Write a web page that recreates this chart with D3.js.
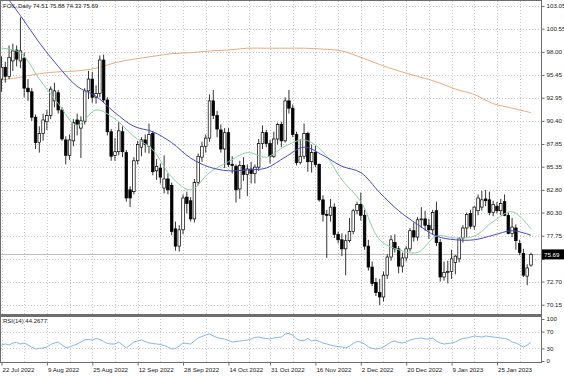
<!DOCTYPE html>
<html>
<head>
<meta charset="utf-8">
<script src="https://cdn.jsdelivr.net/npm/d3@7"></script>
<style>
  body { margin: 0; background: #fff; }
  svg { display: block; }
  text { font-family: "Liberation Sans", Arial, sans-serif; }
</style>
</head>
<body>
<svg id="chart" width="564" height="376"></svg>
<script>
//Trading days shown on the chart (weekdays, two holiday sessions missing)
var startDay = "2022-07-22", endDay = "2023-02-07";
var missingDays = ["2022-12-26", "2023-01-02"];

//Daily candles, one value per trading day
var opens = [95.0,96.3,95.3,97.0,98.2,97.0,97.3,94.0,93.6,90.8,88.0,89.0,90.3,91.0,92.6,93.5,91.6,88.3,86.6,88.2,
  90.5,89.6,90.3,93.7,95.0,93.0,93.4,97.1,92.7,89.2,86.6,87.0,89.2,86.9,82.8,82.6,86.0,87.5,88.3,87.6,
  89.0,84.9,85.2,83.0,84.0,83.3,78.5,76.6,78.4,82.0,81.6,79.6,83.6,86.4,87.6,88.5,92.6,91.0,89.4,87.3,
  89.1,85.6,85.4,82.9,85.5,84.5,85.1,84.6,85.3,87.9,89.1,87.9,86.5,88.4,90.0,88.2,92.6,91.8,88.9,85.8,
  86.5,89.0,85.9,86.9,85.6,81.7,80.1,80.0,80.9,77.9,77.3,76.3,77.2,78.2,80.5,81.2,80.0,76.6,74.3,72.6,
  71.5,71.0,73.4,75.4,77.0,76.3,74.4,75.3,76.3,78.3,77.6,79.5,79.6,78.9,78.4,80.5,77.0,73.2,73.7,73.8,
  74.8,75.2,77.5,78.6,80.2,78.8,80.5,80.9,81.8,81.7,80.3,81.0,80.5,81.5,80.0,78.0,78.6,76.9,75.8,73.3,74.51];
var highs = [97.5,96.9,98.7,98.9,98.7,101.8,97.9,95.0,94.0,91.1,89.8,91.2,91.6,94.2,94.6,93.8,91.9,88.7,88.9,90.6,
  91.2,90.9,94.0,95.9,95.8,94.3,97.6,97.7,93.0,89.5,88.5,90.3,89.8,87.2,83.2,86.4,88.2,88.6,88.9,90.1,
  89.3,86.2,85.7,86.6,84.6,83.6,79.3,78.9,82.3,82.6,82.0,84.0,86.8,88.1,88.9,93.3,93.8,91.5,90.0,89.6,
  89.6,86.5,85.6,86.0,86.4,85.6,85.9,85.6,88.4,89.9,89.4,88.3,89.2,90.2,90.3,93.0,93.8,92.2,89.2,88.4,
  90.1,89.2,87.8,87.7,85.7,82.2,80.6,81.8,81.3,78.2,78.0,77.9,79.7,80.7,81.5,82.5,80.6,77.3,74.9,73.1,
  73.0,73.8,75.7,77.8,77.9,76.6,75.9,76.6,78.6,79.2,79.8,80.9,80.5,79.6,80.6,81.5,77.4,74.9,75.0,76.2,
  75.6,77.6,78.9,80.3,80.6,81.0,82.3,82.7,82.8,82.6,81.6,81.5,81.8,82.3,80.3,79.7,79.0,77.3,76.3,74.6,75.88];
var lows = [93.6,94.6,95.0,95.9,96.4,96.2,93.0,92.6,90.4,87.3,86.9,88.2,89.4,90.6,91.9,91.2,88.2,85.6,86.1,87.6,
  88.8,86.3,90.0,92.8,92.4,92.3,93.0,92.4,88.8,86.0,86.0,86.6,86.4,81.5,80.9,82.3,85.6,86.5,86.9,86.8,
  84.4,83.9,83.5,82.4,82.3,77.8,76.1,76.0,77.9,80.2,79.3,79.2,83.3,85.9,86.9,88.1,90.6,88.6,86.9,85.2,
  85.3,84.6,81.4,81.8,83.8,82.1,83.5,83.5,84.9,87.3,87.5,85.7,86.3,87.8,87.5,88.0,91.2,88.6,85.5,85.6,
  86.2,84.8,84.7,85.3,81.5,79.3,75.3,79.3,77.5,76.9,75.5,73.4,77.0,77.9,80.1,79.4,76.2,73.9,72.2,71.1,
  70.1,70.5,73.0,75.0,75.9,73.6,73.7,74.9,76.0,77.1,77.2,78.6,78.3,77.4,77.9,76.6,72.7,72.8,72.5,73.0,
  73.5,74.8,77.0,77.6,78.5,78.4,80.0,80.5,81.0,80.0,79.9,80.2,80.0,79.9,77.9,77.6,76.2,75.6,73.2,72.3,74.33];
var closes = [96.3,95.3,97.4,98.1,97.2,98.1,94.0,93.6,90.8,88.0,89.0,90.5,91.0,93.9,93.7,91.6,88.4,86.6,88.3,90.2,
  90.0,90.4,93.7,95.0,93.0,93.4,97.1,92.7,89.2,86.5,87.0,89.3,87.0,81.9,81.9,86.0,87.8,88.3,87.8,88.9,
  84.8,85.4,84.2,84.0,82.8,78.2,76.6,78.4,81.9,81.3,79.6,83.6,86.5,87.6,88.5,92.6,91.0,89.5,87.3,89.1,
  85.6,85.5,82.8,85.5,84.5,85.1,84.6,85.3,87.9,89.1,87.9,86.5,88.4,90.0,88.2,92.6,91.8,88.9,85.8,86.5,
  89.0,85.9,86.9,85.6,81.7,80.1,80.0,80.9,77.9,77.3,76.3,77.2,78.2,80.5,81.2,80.0,76.6,74.3,72.5,71.5,
  71.0,73.4,75.4,77.3,76.3,74.4,75.3,76.3,78.3,77.6,79.5,79.6,78.9,78.4,80.3,77.0,73.2,73.7,73.8,75.2,
  75.5,77.4,78.6,80.1,78.8,80.9,81.9,81.7,81.6,80.3,81.2,80.5,81.3,80.0,78.0,78.7,77.2,75.9,73.4,74.2,75.69];

//Moving averages every 5th bar
var maStep = 5;
var maSlow = [104.8,102.0,99.0,96.4,94.2,93.1,91.3,89.8,89.2,88.0,86.3,85.3,84.9,85.0,85.2,
  86.4,87.5,86.6,85.4,84.7,82.5,80.5,79.0,77.7,77.3,77.3,77.8,78.3,77.8];
var maFast = [98.4,97.9,95.0,92.3,89.9,91.6,90.6,88.7,87.2,84.2,82.8,84.7,85.9,86.9,86.4,
  87.6,88.3,87.0,83.9,81.5,77.3,76.2,75.9,77.7,77.5,77.7,79.3,80.4,78.5];
var ma200 = [94.9,95.2,95.6,95.8,95.9,96.2,96.8,97.2,97.5,97.8,97.9,98.1,98.2,98.4,98.4,
  98.4,98.4,98.3,98.1,97.4,96.6,95.9,95.3,94.7,93.9,93.3,92.3,91.8,91.3];

//RSI(14), one value per bar, and the value printed in the panel title
var rsi = [38.1,40.5,38.1,42.9,44.0,40.5,42.9,38.1,33.3,28.6,29.8,31.0,33.3,39.3,42.9,45.2,38.1,32.1,33.3,36.9,
  40.5,45.2,50.0,51.2,50.0,53.6,51.2,46.4,41.7,40.5,40.5,45.2,38.1,31.0,38.1,45.2,47.6,50.0,46.4,42.9,
  41.7,40.5,39.3,36.9,33.3,28.6,29.8,35.7,42.9,41.7,40.5,47.6,54.8,58.3,61.9,64.3,59.5,56.0,53.6,52.4,
  48.8,45.2,46.4,47.6,48.8,50.0,52.4,56.0,57.1,54.8,53.6,52.4,54.8,56.0,57.1,64.3,65.5,61.9,52.4,48.8,
  48.8,53.6,47.6,50.0,46.4,42.9,40.5,38.1,35.7,34.5,33.3,31.0,35.7,41.7,46.4,45.2,40.5,33.3,29.8,28.6,
  29.8,33.3,39.3,45.2,47.6,44.0,42.9,45.2,50.0,52.4,53.6,54.8,52.4,52.4,54.8,47.6,42.9,40.5,41.7,42.9,
  45.2,50.0,53.6,54.8,57.1,59.5,58.3,57.1,59.5,58.3,57.1,56.0,54.8,53.6,51.2,45.2,42.9,38.1,33.3,38.1,44.27];
var rsiLast = 44.2677;

//Axis labels
var priceTicks = [103.05,100.55,98.00,95.45,92.95,90.40,87.85,85.35,82.80,80.30,77.75,75.20,72.70,70.15];
var hiddenTick = 75.20;   //sits under the current price box
var rsiTicks = [100, 70, 30, 0];
var rsiLevels = [70, 30];
var dateTicks = ["2022-07-22","2022-08-09","2022-08-25","2022-09-12","2022-09-28","2022-10-14",
  "2022-10-31","2022-11-16","2022-12-02","2022-12-20","2023-01-09","2023-01-25"];
var symbol = "FOIL,Daily";
var rsiName = "RSI(14)";

var fmtDay = d3.timeFormat("%Y-%m-%d");
var parseDay = d3.timeParse("%Y-%m-%d");
var dates = d3.timeDay.range(parseDay(startDay), d3.timeDay.offset(parseDay(endDay), 1))
  .filter(function (d) { return d.getDay() % 6 !== 0 && missingDays.indexOf(fmtDay(d)) < 0; })
  .map(fmtDay);

var last = closes.length - 1;
var svg = d3.select("#chart");

//Panel geometry
var left = 1, right = 541;
var mainTop = 1, mainBottom = 314;
var rsiTop = 316, rsiBottom = 362;

var x = d3.scalePoint().domain(dates).range([1.5, 531]);
var y = d3.scaleLinear().domain([70.15, 103.05]).range([304.7, 6]);
var yr = d3.scaleLinear().domain([0, 100]).range([361, 319]);

svg.append("clipPath").attr("id", "mainClip")
  .append("rect").attr("x", left).attr("y", mainTop).attr("width", right - left).attr("height", mainBottom - mainTop);
svg.append("clipPath").attr("id", "rsiClip")
  .append("rect").attr("x", left).attr("y", rsiTop).attr("width", right - left).attr("height", rsiBottom - rsiTop);

//Grid: vertical lines at each date label and halfway between
var gridX = [];
dateTicks.forEach(function (d, i) {
  gridX.push(x(d));
  if (i < dateTicks.length - 1) gridX.push((x(d) + x(dateTicks[i + 1])) / 2);
});
gridX.push(x(dateTicks[dateTicks.length - 1]) + (x(dateTicks[1]) - x(dateTicks[0])) / 2);

var grid = svg.append("g").attr("stroke", "#c8c8c8").attr("stroke-width", 1).attr("stroke-dasharray", "1,2");
grid.selectAll("line.v").data(gridX).join("line").attr("class", "v")
  .attr("x1", function (d) { return Math.round(d) + 0.5; }).attr("x2", function (d) { return Math.round(d) + 0.5; })
  .attr("y1", mainTop).attr("y2", mainBottom);
grid.selectAll("line.vr").data(gridX).join("line").attr("class", "vr")
  .attr("x1", function (d) { return Math.round(d) + 0.5; }).attr("x2", function (d) { return Math.round(d) + 0.5; })
  .attr("y1", rsiTop).attr("y2", rsiBottom);
grid.selectAll("line.h").data(priceTicks).join("line").attr("class", "h")
  .attr("x1", left).attr("x2", right)
  .attr("y1", function (d) { return Math.round(y(d)) + 0.5; }).attr("y2", function (d) { return Math.round(y(d)) + 0.5; });
grid.selectAll("line.hr").data(rsiLevels).join("line").attr("class", "hr")
  .attr("x1", left).attr("x2", right)
  .attr("y1", function (d) { return Math.round(yr(d)) + 0.5; }).attr("y2", function (d) { return Math.round(yr(d)) + 0.5; });

//Bid line at the last close
svg.append("line")
  .attr("x1", left).attr("x2", right)
  .attr("y1", Math.round(y(closes[last])) + 0.5).attr("y2", Math.round(y(closes[last])) + 0.5)
  .attr("stroke", "#c0c0c0").attr("stroke-width", 1);

var plot = svg.append("g").attr("clip-path", "url(#mainClip)");

//Moving average lines
var maDates = maSlow.map(function (v, i) { return dates[Math.min(i * maStep, last)]; });
function maLine(values) {
  return d3.line()
    .x(function (d, i) { return x(maDates[i]); })
    .y(function (d) { return y(d); })
    .curve(d3.curveCatmullRom)(values);
}
plot.append("path").attr("d", maLine(ma200)).attr("fill", "none").attr("stroke", "#eaaa80").attr("stroke-width", 1);

//Candles
var idx = d3.range(closes.length);
var bw = 2.6;
plot.selectAll("line.wick").data(idx).join("line").attr("class", "wick")
  .attr("x1", function (i) { return x(dates[i]); }).attr("x2", function (i) { return x(dates[i]); })
  .attr("y1", function (i) { return y(highs[i]); }).attr("y2", function (i) { return y(lows[i]); })
  .attr("stroke", "#000").attr("stroke-width", 0.8);
plot.selectAll("rect.body").data(idx).join("rect").attr("class", "body")
  .attr("x", function (i) { return x(dates[i]) - bw / 2; })
  .attr("y", function (i) { return y(Math.max(opens[i], closes[i])); })
  .attr("width", bw)
  .attr("height", function (i) { return Math.max(Math.abs(y(opens[i]) - y(closes[i])), 0.8); })
  .attr("fill", function (i) { return closes[i] >= opens[i] ? "#fff" : "#000"; })
  .attr("stroke", "#000").attr("stroke-width", 0.7);

plot.append("path").attr("d", maLine(maFast)).attr("fill", "none").attr("stroke", "#8ccfa8").attr("stroke-width", 1);
plot.append("path").attr("d", maLine(maSlow)).attr("fill", "none").attr("stroke", "#4a4ac4").attr("stroke-width", 1);

//RSI line
svg.append("g").attr("clip-path", "url(#rsiClip)")
  .append("path")
  .attr("d", d3.line().x(function (d, i) { return x(dates[i]); }).y(function (d) { return yr(d); })(rsi))
  .attr("fill", "none").attr("stroke", "#86b6e6").attr("stroke-width", 1);

//Panel frames
svg.append("rect").attr("x", 0.5).attr("y", 0.5).attr("width", right).attr("height", mainBottom)
  .attr("fill", "none").attr("stroke", "#6e6e6e");
svg.append("rect").attr("x", 0.5).attr("y", rsiTop + 0.5).attr("width", right).attr("height", rsiBottom - rsiTop)
  .attr("fill", "none").attr("stroke", "#6e6e6e");
svg.append("line").attr("x1", 0).attr("x2", right + 1).attr("y1", mainBottom + 1.5).attr("y2", mainBottom + 1.5)
  .attr("stroke", "#6e6e6e");

//Right price axis
var yAxis = svg.append("g").attr("transform", "translate(" + (right + 0.5) + ",0)")
  .call(d3.axisRight(y).tickValues(priceTicks)
    .tickFormat(function (d) { return d === hiddenTick ? "" : d3.format(".2f")(d); })
    .tickSize(3).tickPadding(2));
var rAxis = svg.append("g").attr("transform", "translate(" + (right + 0.5) + ",0)")
  .call(d3.axisRight(yr).tickValues(rsiTicks).tickFormat(d3.format("d")).tickSize(3).tickPadding(2));
var xAxis = svg.append("g").attr("transform", "translate(0," + (rsiBottom + 0.5) + ")")
  .call(d3.axisBottom(x).tickValues(dateTicks)
    .tickFormat(function (d) { return d3.timeFormat("%-d %b %Y")(parseDay(d)); }).tickSize(3).tickPadding(2));
[yAxis, rAxis, xAxis].forEach(function (a) {
  a.select(".domain").remove();
  a.selectAll("line").attr("stroke", "#6e6e6e");
  a.selectAll("text").attr("font-size", 6.2).attr("fill", "#202020").attr("font-family", "Liberation Sans, Arial, sans-serif");
});
xAxis.selectAll("text").attr("text-anchor", "start").attr("dx", 0.5);

//Current price box
var py = y(closes[last]);
svg.append("rect").attr("x", right + 1).attr("y", py - 5).attr("width", 22).attr("height", 10).attr("fill", "#000");
svg.append("text").attr("x", right + 3).attr("y", py + 2.2).attr("font-size", 6.2).attr("fill", "#fff")
  .text(closes[last].toFixed(2));

//Titles
svg.append("text").attr("x", 3).attr("y", 8).attr("font-size", 6).attr("fill", "#202020")
  .text(symbol + "  " + [opens[last], highs[last], lows[last], closes[last]].map(function (v) { return v.toFixed(2); }).join(" "));
svg.append("text").attr("x", 3).attr("y", rsiTop + 7).attr("font-size", 6).attr("fill", "#202020")
  .text(rsiName + " " + rsiLast.toFixed(4));
</script>
</body>
</html>
